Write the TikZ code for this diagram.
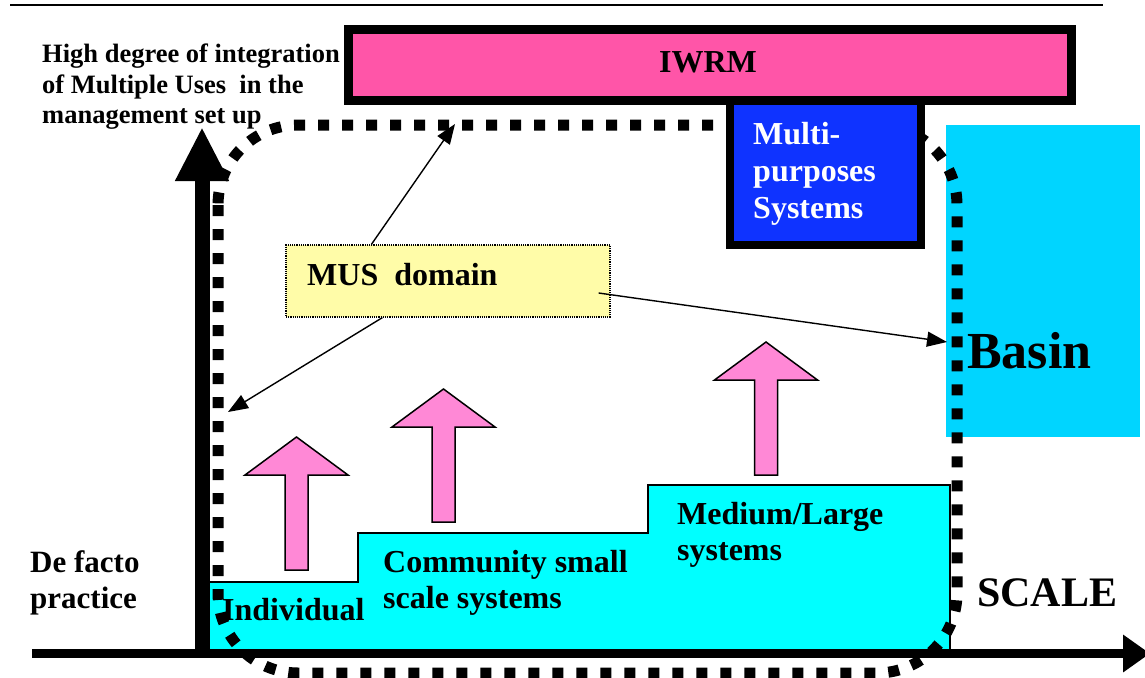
\documentclass[tikz,border=0pt]{standalone}
\usepackage{fontspec}
\setmainfont{Liberation Serif}
\usetikzlibrary{arrows.meta,calc}

\definecolor{iwrmpink}{HTML}{FF55A8}
\definecolor{mpblue}{HTML}{0F33FF}
\definecolor{basincyan}{HTML}{00D5FF}
\definecolor{stepcyan}{HTML}{00FFFF}
\definecolor{liftpink}{HTML}{FF88D6}
\definecolor{musyellow}{HTML}{FFFCA8}

\tikzset{
  txt/.style={inner sep=0pt, anchor=base west, font=\bfseries\fontsize{32}{36}\selectfont},
  smalltxt/.style={txt, font=\bfseries\fontsize{26.5}{30}\selectfont},
  thinarrow/.style={line width=1.4pt, -{Triangle[length=20pt,width=15pt]}},
  dotbound/.style={line width=11pt, dash pattern=on 11pt off 13pt, rounded corners=80pt},
  liftarrow/.pic={
    \draw[fill=liftpink, line width=1.5pt, line join=miter]
      (-11.5,0) -- (-11.5,-95) -- (-51.5,-95) -- (0,-133)
      -- (51.5,-95) -- (11.5,-95) -- (11.5,0) -- cycle;
  }
}

\begin{document}
\begin{tikzpicture}[x=1pt, y=-1pt]
\useasboundingbox (0,0) rectangle (1145,677);

% header rule
\coordinate (ruleL) at (10,5);
\coordinate (ruleR) at (1103,5);
\draw[line width=1.6pt] (ruleL) -- (ruleR);

% basin block
\node[fill=basincyan, minimum width=194pt, minimum height=312pt, inner sep=0pt] (basin) at (1043,281) {};

% scale steps
\draw[fill=stepcyan, line width=1.5pt]
  (209,652) -- (209,582) -- (358,582) -- (358,533) -- (648,533)
  -- (648,485) -- (950,485) -- (950,652) -- cycle;

% upward block arrows
\pic at (296.5,570) {liftarrow};
\pic at (443.5,522) {liftarrow};
\pic at (766,475) {liftarrow};

% axes
\coordinate (yfoot) at (202,657);
\coordinate (ytop) at (202,127);
\coordinate (xfoot) at (32,653.5);
\coordinate (xtip) at (1150,653.5);
\draw[line width=15pt, -{Triangle[length=54pt,width=50pt]}] (yfoot) -- (ytop);
\draw[line width=9pt, -{Triangle[length=27pt,width=36pt]}] (xfoot) -- (xtip);

% MUS domain boundary
\draw[dotbound] (218,125) rectangle (957,673);

% management boxes
\node[draw, line width=9pt, fill=iwrmpink, minimum width=723pt, minimum height=71pt, inner sep=0pt] (iwrm) at (710,65) {};
\node[draw, line width=8pt, fill=mpblue, minimum width=191pt, minimum height=144pt, inner sep=0pt] (multi) at (825.5,173) {};

% MUS domain box
\node[draw, densely dotted, line width=1.2pt, fill=musyellow, minimum width=324pt, minimum height=72pt, inner sep=0pt] (mus) at (448,281) {};

% pointers from the MUS box
\coordinate (musup) at (455,124);
\coordinate (musleft) at (228,412);
\coordinate (musright) at (947,342);
\draw[thinarrow] ($(mus.north west)+(86,0)$) -- (musup);
\draw[thinarrow] ($(mus.south west)+(97,0)$) -- (musleft);
\draw[thinarrow] ($(mus.east)+(-12,12)$) -- (musright);

% labels
\node[smalltxt] (hi1) at (42,63) {High degree of integration};
\node[smalltxt] (hi2) at (42,93) {of Multiple Uses~~in the};
\node[smalltxt] (hi3) at (42,123) {management set up};

\node[txt, anchor=base] (iwrmlbl) at (708,73) {IWRM};

\node[txt, text=white] (mp1) at (753,144) {Multi-};
\node[txt, text=white] (mp2) at (753,181) {purposes};
\node[txt, text=white] (mp3) at (753,218) {Systems};

\node[txt] (muslbl) at (307,285) {MUS~~domain};

\node[txt, font=\bfseries\fontsize{52}{60}\selectfont] (basinlbl) at (967,368) {Basin};

\node[txt, font=\bfseries\fontsize{31}{36}\selectfont] (df1) at (30,572) {De facto};
\node[txt, font=\bfseries\fontsize{31}{36}\selectfont] (df2) at (30,608) {practice};

\node[txt] (indiv) at (222,620) {Individual};
\node[txt] (comm1) at (383,572) {Community small};
\node[txt] (comm2) at (383,608) {scale systems};
\node[txt] (med1) at (677,524) {Medium/Large};
\node[txt] (med2) at (677,560) {systems};

\node[txt, font=\bfseries\fontsize{42}{48}\selectfont] (scale) at (977,606) {SCALE};
\end{tikzpicture}
\end{document}
